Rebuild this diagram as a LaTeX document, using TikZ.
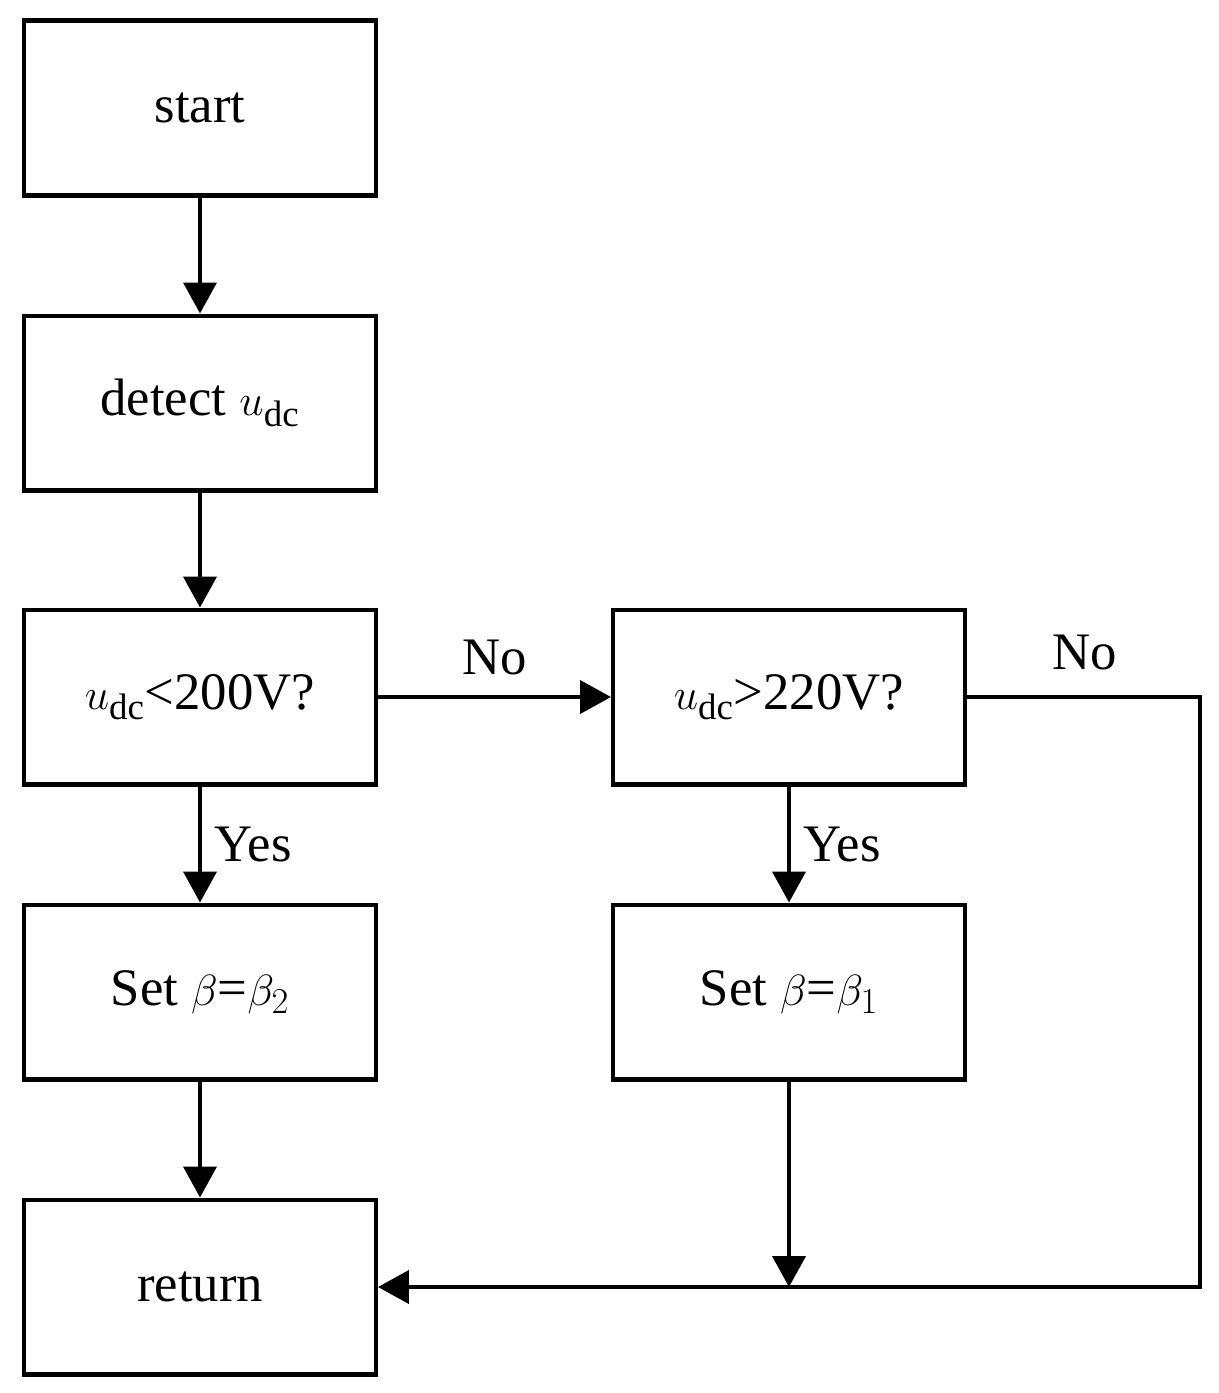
\documentclass[tikz,border=0pt]{standalone}
\usepackage{fontspec}
\setmainfont{Liberation Serif}
\usetikzlibrary{arrows.meta}
\tikzset{box/.style={draw,line width=2.3pt,minimum width=7.04cm,minimum height=3.5cm,inner sep=0pt,
    font=\fontsize{30}{36}\selectfont},
    lab/.style={font=\fontsize{30}{36}\selectfont},
    flow/.style={line width=2.3pt,-{Triangle[length=0.62cm,width=0.66cm]}}}
\begin{document}
\begin{tikzpicture}[x=0.02cm,y=-0.02cm]
    \useasboundingbox (0,0) rectangle (1218,1393);
    \node[box] (start) at (200,108) {start};
    \node[box] (detect) at (200,403) {detect $u_{\mathrm{dc}}$};
    \node[box] (low) at (200,697) {$u_{\mathrm{dc}}$<200V?};
    \node[box] (set2) at (200,992) {Set $\beta$=$\beta_2$};
    \node[box] (ret) at (200,1287) {return};
    \node[box] (high) at (789,697) {$u_{\mathrm{dc}}$>220V?};
    \node[box] (set1) at (789,992) {Set $\beta$=$\beta_1$};
    \coordinate (join) at (789,1287);
    \coordinate (corner) at (1200,697);
    \draw[flow] (start) -- (detect);
    \draw[flow] (detect) -- (low);
    \draw[flow] (low) -- node[lab,above=8pt]{No} (high);
    \draw[flow] (low) -- node[lab,right=4pt]{Yes} (set2);
    \draw[flow] (set2) -- (ret);
    \draw[flow] (high) -- node[lab,right=4pt]{Yes} (set1);
    \draw[flow] (set1) -- (join);
    \draw[flow] (high.east) -- (corner) |- (ret.east);
    \node[lab] at (1085,652) {No};
\end{tikzpicture}
\end{document}
